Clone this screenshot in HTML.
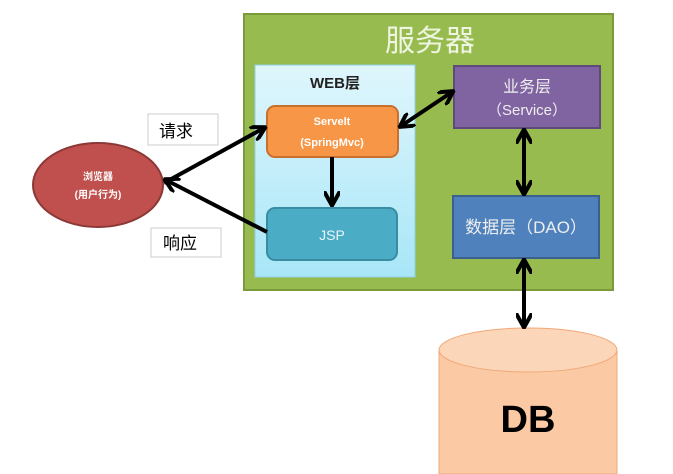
<!DOCTYPE html><html><head><meta charset="utf-8"><style>body{margin:0;background:#fff}svg{display:block}</style></head><body>
<svg width="673" height="474" viewBox="0 0 673 474" xmlns="http://www.w3.org/2000/svg" font-family="Liberation Sans, Noto Sans CJK SC, sans-serif">
<defs>
<marker id="a" viewBox="0 0 10 10" refX="8" refY="5" markerWidth="4" markerHeight="4" orient="auto-start-reverse"><path d="M0,0 L9,5 L0,10" fill="none" stroke="#000" stroke-width="2.5"/></marker>
<linearGradient id="w" x1="0" y1="0" x2="0" y2="1"><stop offset="0" stop-color="#dff6fc"/><stop offset="1" stop-color="#a8e6f8"/></linearGradient>
</defs>
<rect x="244" y="14" width="369" height="276" fill="#98bb50" stroke="#7a9a3c" stroke-width="2"/>
<text x="430" y="51" font-size="30" fill="#eef5e0" text-anchor="middle">服务器</text>
<rect x="255" y="65" width="160" height="212" fill="url(#w)" stroke="#8fd0e6"/>
<text x="335" y="88" font-size="15" font-weight="bold" text-anchor="middle" fill="#222">WEB层</text>
<rect x="267" y="106" width="131" height="51" rx="8" fill="#f79646" stroke="#c8712e" stroke-width="2"/>
<text x="332" y="125" font-size="11" font-weight="bold" fill="#fff" text-anchor="middle">Servelt</text>
<text x="332" y="146" font-size="11" font-weight="bold" fill="#fff" text-anchor="middle">(SpringMvc)</text>
<rect x="267" y="208" width="130" height="52" rx="8" fill="#4bacc6" stroke="#3a8ca2" stroke-width="2"/>
<text x="332" y="240" font-size="14" fill="#e8f6fa" text-anchor="middle">JSP</text>
<rect x="454" y="66" width="146" height="62" fill="#8064a2" stroke="#5f4a7c" stroke-width="2"/>
<text x="527" y="92" font-size="16" fill="#eee" text-anchor="middle">业务层</text>
<text x="527" y="115" font-size="15" fill="#eee" text-anchor="middle">（Service）</text>
<rect x="453" y="196" width="146" height="62" fill="#4f81bd" stroke="#3a6090" stroke-width="2"/>
<text x="526" y="233" font-size="17" fill="#eee" text-anchor="middle">数据层（DAO）</text>
<ellipse cx="98" cy="185" rx="65" ry="42" fill="#c0504d" stroke="#8c3836" stroke-width="2"/>
<text x="98" y="180" font-size="10" font-weight="bold" fill="#fff" text-anchor="middle">浏览器</text>
<text x="98" y="198" font-size="10" font-weight="bold" fill="#fff" text-anchor="middle">(用户行为)</text>
<rect x="148" y="114" width="70" height="31" fill="#fff" stroke="#ccc"/>
<text x="176" y="137" font-size="17" text-anchor="middle">请求</text>
<rect x="151" y="228" width="70" height="29" fill="#fff" stroke="#ccc"/>
<text x="180" y="249" font-size="17" text-anchor="middle">响应</text>
<path d="M439,350 L439,474 L617,474 L617,350" fill="#fbc9a3" stroke="#f0a878"/>
<ellipse cx="528" cy="350" rx="89" ry="22" fill="#fcd6b8" stroke="#f0a878"/>
<text x="528" y="432" font-size="38" font-weight="bold" text-anchor="middle">DB</text>
<g stroke="#000" stroke-width="4" fill="none">
<line x1="164" y1="183" x2="264" y2="128" marker-end="url(#a)"/>
<line x1="267" y1="232" x2="166" y2="180" marker-end="url(#a)"/>
<line x1="401" y1="126" x2="452" y2="92" marker-start="url(#a)" marker-end="url(#a)"/>
<line x1="332" y1="157" x2="332" y2="204" marker-end="url(#a)"/>
<line x1="524" y1="131" x2="524" y2="193" marker-start="url(#a)" marker-end="url(#a)"/>
<line x1="524" y1="261" x2="524" y2="326" marker-start="url(#a)" marker-end="url(#a)"/>
</g>
</svg></body></html>
